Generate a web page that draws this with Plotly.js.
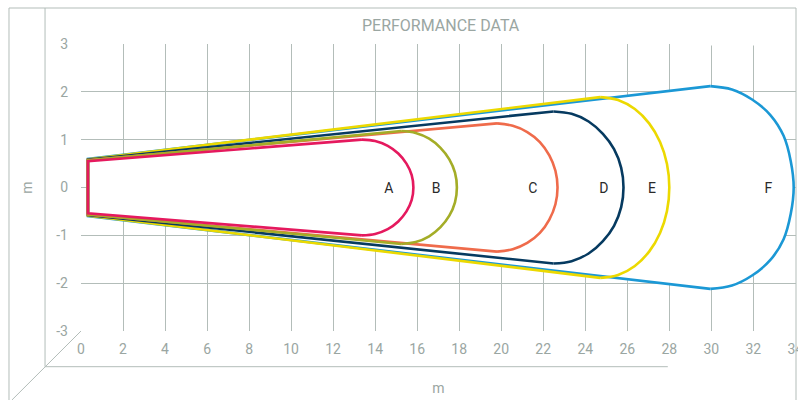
<!DOCTYPE html>
<html>
<head>
<meta charset="utf-8">
<script src="https://cdn.plot.ly/plotly-3.0.1.min.js"></script>
<style>html,body{margin:0;padding:0;background:#fff;}#chart{width:798px;height:400px;}</style>
</head>
<body>
<div id="chart"></div>
<script>
// ---- data ----
// each outline: from top-left corner, along the top edge, round the cap, back to bottom-left corner
const seriesNames = ['A', 'B', 'C', 'D', 'E', 'F'];
const seriesColors = ['#e5195e', '#a4ad27', '#ef6b4b', '#063a60', '#ecd900', '#1b98d5'];

const aX = [0.33, 13.37, 14.00, 14.60, 15.10, 15.49, 15.74, 15.82, 15.74, 15.49, 15.10, 14.60, 14.00, 13.37, 0.33];
const aY = [0.55, 1.00, 0.97, 0.87, 0.71, 0.50, 0.26, 0.00, -0.26, -0.50, -0.71, -0.87, -0.97, -1.00, -0.54];

const bX = [0.33, 15.24, 15.93, 16.57, 17.11, 17.53, 17.80, 17.89, 17.80, 17.53, 17.11, 16.57, 15.93, 15.24, 0.33];
const bY = [0.565, 1.18, 1.14, 1.02, 0.83, 0.59, 0.31, 0.00, -0.31, -0.59, -0.83, -1.02, -1.14, -1.18, -0.56];

const cX = [0.33, 19.80, 20.55, 21.24, 21.84, 22.29, 22.58, 22.68, 22.58, 22.29, 21.84, 21.24, 20.55, 19.80, 0.33];
const cY = [0.57, 1.34, 1.29, 1.16, 0.95, 0.67, 0.35, 0.00, -0.35, -0.67, -0.95, -1.16, -1.29, -1.34, -0.565];

const dX = [0.33, 22.49, 23.35, 24.16, 24.84, 25.37, 25.71, 25.82, 25.71, 25.37, 24.84, 24.16, 23.35, 22.49, 0.33];
const dY = [0.58, 1.59, 1.54, 1.38, 1.12, 0.80, 0.41, 0.00, -0.41, -0.80, -1.12, -1.38, -1.54, -1.59, -0.575];

const eX = [0.33, 24.71, 25.56, 26.36, 27.04, 27.56, 27.89, 28.00, 27.89, 27.56, 27.04, 26.36, 25.56, 24.71, 0.33];
const eY = [0.59, 1.89, 1.83, 1.64, 1.34, 0.95, 0.49, 0.00, -0.49, -0.95, -1.34, -1.64, -1.83, -1.89, -0.585];

const fX = [0.33, 29.95, 30.98, 31.94, 32.80, 33.44, 33.78, 33.92, 33.78, 33.44, 32.80, 31.94, 30.98, 29.95, 0.33];
const fY = [0.60, 2.12, 2.05, 1.84, 1.52, 1.08, 0.55, 0.00, -0.55, -1.08, -1.52, -1.84, -2.05, -2.12, -0.60];

const labelX = [14.65, 16.90, 21.50, 24.88, 27.17, 32.72];
const labelY = [-0.04, -0.04, -0.04, -0.04, -0.04, -0.04];

const xTickVals = [0, 2, 4, 6, 8, 10, 12, 14, 16, 18, 20, 22, 24, 26, 28, 30, 32, 34];
const xTickText = ['0', '2', '4', '6', '8', '10', '12', '14', '16', '18', '20', '22', '24', '26', '28', '30', '32', '34'];
const yTickVals = [-3, -2, -1, 0, 1, 2, 3];
const yTickText = ['-3', '-2', '-1', '0', '1', '2', '3'];

const chartTitle = 'PERFORMANCE DATA';
const xTitle = 'm';
const yTitle = 'm';

// ---- styling ----
const gridColor = '#b3bdb9';
const textGray = '#9aa6a2';
const fontFam = 'Roboto, "DejaVu Sans", sans-serif';

const xs = [aX, bX, cX, dX, eX, fX];
const ys = [aY, bY, cY, dY, eY, fY];
const last = seriesNames.length - 1;

const traces = [];
// white body of the largest outline hides the grid inside it
traces.push({
  type: 'scatter', mode: 'lines',
  x: fX, y: fY,
  fill: 'toself', fillcolor: '#ffffff',
  line: {width: 0, color: 'rgba(0,0,0,0)'},
  hoverinfo: 'skip'
});
// outlines, largest first so the smaller ones sit on top
for (let i = last; i >= 0; i--) {
  const X = xs[i], Y = ys[i], n = X.length - 1;
  // straight part: top edge, left edge, bottom edge
  traces.push({
    type: 'scatter', mode: 'lines',
    x: [X[1], X[0], X[n], X[n - 1]], y: [Y[1], Y[0], Y[n], Y[n - 1]],
    name: seriesNames[i],
    line: {color: seriesColors[i], width: 2.6},
    hoverinfo: 'skip'
  });
  // rounded cap
  traces.push({
    type: 'scatter', mode: 'lines',
    x: X.slice(1, n), y: Y.slice(1, n), name: seriesNames[i],
    line: {color: seriesColors[i], width: 2.6, shape: 'spline', smoothing: 1},
    hoverinfo: 'skip'
  });
}
traces.push({
  type: 'scatter', mode: 'text',
  x: labelX, y: labelY, text: seriesNames,
  textposition: 'middle center',
  textfont: {family: fontFam, size: 14, color: '#2a2a2a'},
  hoverinfo: 'skip'
});

const frameLine = {color: gridColor, width: 1};
const shapes = [
  {type: 'line', xref: 'paper', yref: 'paper', x0: -0.1007, y0: 1.1254, x1: 1.0, y1: 1.1254, line: frameLine},
  {type: 'line', xref: 'paper', yref: 'paper', x0: -0.1007, y0: 1.1254, x1: -0.1007, y1: -0.245, line: frameLine},
  {type: 'line', xref: 'paper', yref: 'paper', x0: 1.0, y0: 1.1254, x1: 1.0, y1: -0.245, line: frameLine},
  {type: 'line', xref: 'paper', yref: 'paper', x0: -0.0503, y0: 1.1254, x1: -0.0503, y1: -0.1244, line: frameLine},
  {type: 'line', xref: 'paper', yref: 'paper', x0: -0.0503, y0: -0.1244, x1: 0.8207, y1: -0.1244, line: frameLine},
  {type: 'line', xref: 'paper', yref: 'paper', x0: 0, y0: 0, x1: -0.0966, y1: -0.2404, line: frameLine},
  {type: 'line', xref: 'x', yref: 'y', x0: 28.05, y0: 3, x1: 33.95, y1: 3, layer: 'between', line: {color: '#ffffff', width: 3}},
  {type: 'line', xref: 'x', yref: 'y', x0: 32.05, y0: -3, x1: 33.95, y1: -3, layer: 'between', line: {color: '#ffffff', width: 3}}
];

const axisFont = {family: fontFam, size: 14, color: textGray};

const layout = {
  width: 798,
  height: 400,
  margin: {l: 81, r: 2, t: 44, b: 69},
  paper_bgcolor: '#ffffff',
  plot_bgcolor: '#ffffff',
  showlegend: false,
  hovermode: false,
  title: {
    text: chartTitle,
    x: 0.503, xref: 'paper', xanchor: 'center',
    y: 0.9375, yref: 'container', yanchor: 'middle',
    font: {family: fontFam, size: 16, color: textGray}
  },
  xaxis: {
    range: [0, 34.03],
    tickvals: xTickVals, ticktext: xTickText,
    showgrid: true, gridcolor: gridColor, gridwidth: 1,
    zeroline: false, showline: false, ticks: '',
    ticklabelstandoff: 8,
    ticklabeloverflow: 'allow',
    tickfont: axisFont,
    title: {text: xTitle, font: axisFont, standoff: 27},
    fixedrange: true
  },
  yaxis: {
    range: [-3, 3],
    tickvals: yTickVals, ticktext: yTickText,
    showgrid: true, gridcolor: gridColor, gridwidth: 1,
    zeroline: false, showline: false, ticks: '',
    ticklabelstandoff: 12,
    tickfont: axisFont,
    title: {text: yTitle, font: axisFont, standoff: 20},
    fixedrange: true
  },
  shapes: shapes
};

Plotly.newPlot('chart', traces, layout, {staticPlot: true, displayModeBar: false});
</script>
</body>
</html>
